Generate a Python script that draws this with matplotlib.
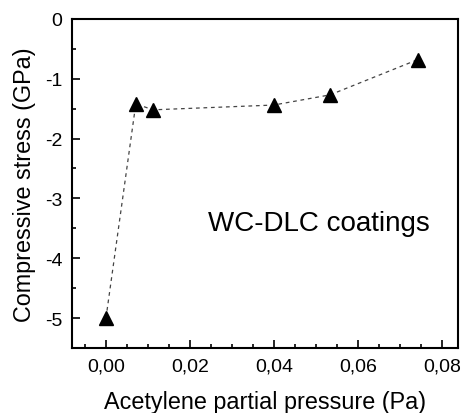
import numpy as np
import matplotlib.pyplot as plt
from matplotlib.ticker import MultipleLocator, FuncFormatter

plt.rcParams['font.family'] = ['Liberation Sans', 'DejaVu Sans']

pressure = [0.0, 0.0071, 0.0112, 0.0399, 0.0533, 0.0742]
stress = [-5.0, -1.42, -1.52, -1.44, -1.27, -0.68]

fig = plt.figure(figsize=(4.61, 4.14), dpi=100)
ax = fig.add_axes([0.156, 0.157, 0.838, 0.795])

ax.plot(pressure, stress, linestyle=(0, (3, 3)), color='#444444', linewidth=0.9,
        marker='^', markersize=10.5, markerfacecolor='black', markeredgecolor='black')

ax.set_xlim(-0.0081, 0.0838)
ax.set_ylim(-5.5, 0)
ax.xaxis.set_major_locator(MultipleLocator(0.02))
ax.xaxis.set_minor_locator(MultipleLocator(0.005))
ax.yaxis.set_major_locator(MultipleLocator(1))
ax.yaxis.set_minor_locator(MultipleLocator(0.5))
ax.xaxis.set_major_formatter(FuncFormatter(lambda v, p: f"{v:.2f}".replace('.', ',')))
ax.yaxis.set_major_formatter(FuncFormatter(lambda v, p: f"{v:.0f}" if abs(v) > 1e-9 else "0"))

ax.tick_params(which='both', direction='in', labelsize=14, width=1.2, pad=7)
ax.tick_params(which='major', length=6)
ax.tick_params(which='minor', length=3)
for s in ax.spines.values():
    s.set_linewidth(1.5)

ax.set_xlabel("Acetylene partial pressure (Pa)", fontsize=16.8, labelpad=11)
ax.set_ylabel("Compressive stress (GPa)", fontsize=16.8, labelpad=6)

ax.text(0.0507, -3.52, "WC-DLC coatings", fontsize=20, ha='center', va='baseline')

fig.savefig("out.png", dpi=100)
